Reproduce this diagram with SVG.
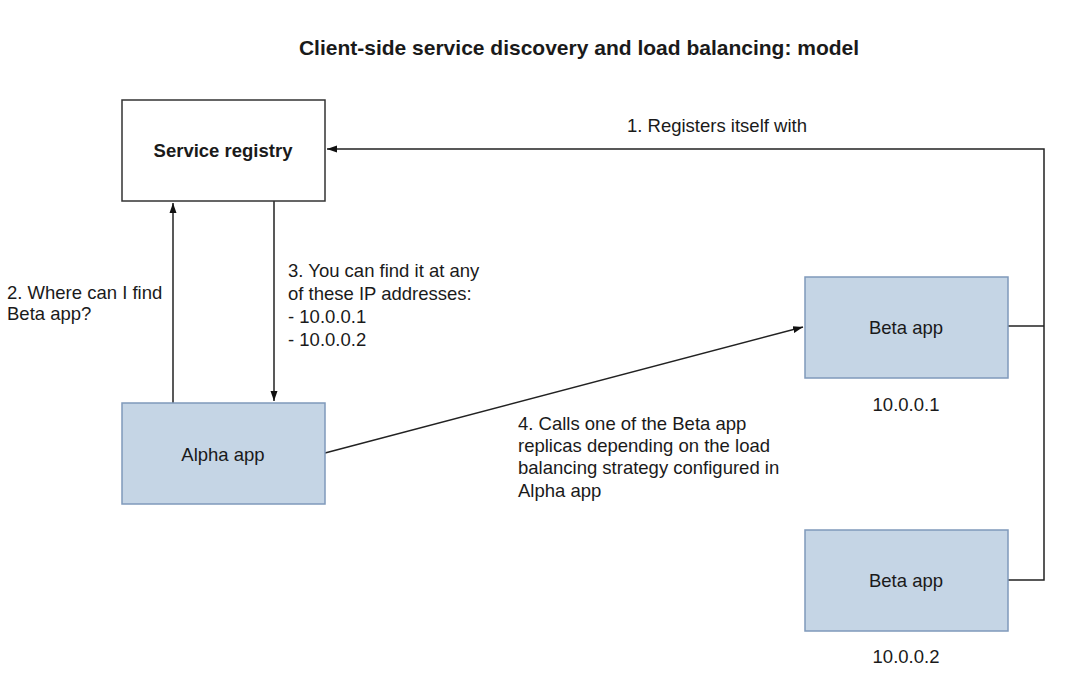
<svg xmlns="http://www.w3.org/2000/svg" width="1080" height="679" viewBox="0 0 1080 679">
<style>
text{font-family:"Liberation Sans",Arial,sans-serif;fill:#1a1a1a;font-size:18.5px}
.b{font-weight:bold}
.c{text-anchor:middle}
.t{font-size:21px}
.app{fill:#c5d5e5;stroke:#7f99bb;stroke-width:1.5}
.reg{fill:#fff;stroke:#333;stroke-width:1.5}
.ln{fill:none;stroke:#222;stroke-width:1.5}
</style>
<defs>
<marker id="ah" viewBox="0 0 10 10" refX="10" refY="5" markerWidth="10" markerHeight="10" markerUnits="userSpaceOnUse" orient="auto">
<path d="M0,1.5 L10,5 L0,8.5 Z" fill="#111"/>
</marker>
</defs>
<rect width="1080" height="679" fill="#fff"/>
<text class="b c t" x="579" y="55">Client-side service discovery and load balancing: model</text>
<g id="connectors">
<polyline class="ln" points="1008,326 1044,326"/>
<polyline class="ln" points="1008,580 1044,580 1044,149 327,149" marker-end="url(#ah)"/>
<line class="ln" x1="173" y1="403" x2="173" y2="203" marker-end="url(#ah)"/>
<line class="ln" x1="274" y1="201" x2="274" y2="401" marker-end="url(#ah)"/>
<line class="ln" x1="325" y1="453" x2="803" y2="327" marker-end="url(#ah)"/>
<text x="627" y="132">1. Registers itself with</text>
<text x="7" y="299">2. Where can I find</text>
<text x="7" y="320">Beta app?</text>
<text x="288" y="277">3. You can find it at any</text>
<text x="288" y="300">of these IP addresses:</text>
<text x="288" y="323">- 10.0.0.1</text>
<text x="288" y="346">- 10.0.0.2</text>
<text x="518" y="430">4. Calls one of the Beta app</text>
<text x="518" y="452">replicas depending on the load</text>
<text x="518" y="474">balancing strategy configured in</text>
<text x="518" y="497">Alpha app</text>
</g>
<g id="registry">
<rect class="reg" x="122" y="100" width="203" height="101"/>
<text class="b c" x="223" y="157">Service registry</text>
</g>
<g id="alpha">
<rect class="app" x="122" y="403" width="203" height="101"/>
<text class="c" x="223" y="461">Alpha app</text>
</g>
<g id="beta1">
<rect class="app" x="805" y="277" width="203" height="101"/>
<text class="c" x="906" y="334">Beta app</text>
<text class="c" x="906" y="411">10.0.0.1</text>
</g>
<g id="beta2">
<rect class="app" x="805" y="530" width="203" height="101"/>
<text class="c" x="906" y="587">Beta app</text>
<text class="c" x="906" y="663">10.0.0.2</text>
</g>
</svg>
